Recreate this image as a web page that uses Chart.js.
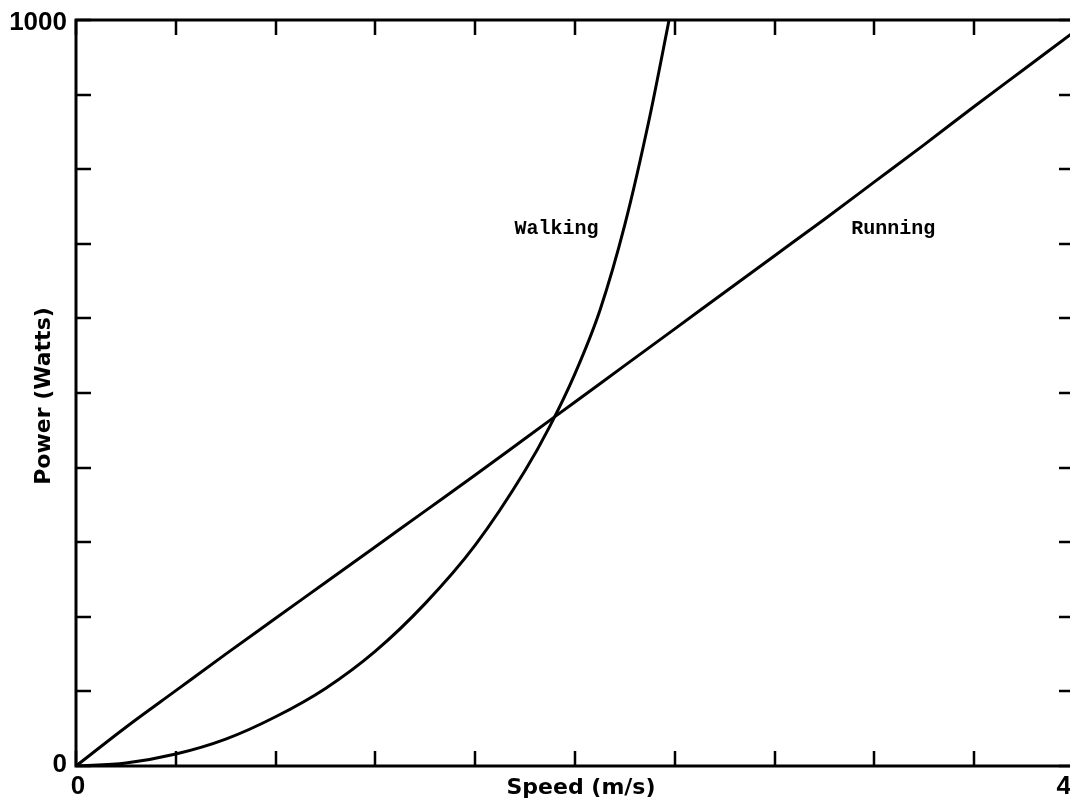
<!DOCTYPE html>
<html>
<head>
<meta charset="utf-8">
<script src="https://cdn.jsdelivr.net/npm/chart.js@4"></script>
<style>
  html, body { margin: 0; padding: 0; background: #fff; overflow: hidden; }
  #wrap { width: 1070px; height: 802px; overflow: hidden; }
</style>
</head>
<body>
<div id="wrap"><canvas id="chart" width="1076" height="802"></canvas></div>
<script>
// Speed (m/s) vs power (W)
const runSpeed = [0, 0.2, 0.4, 0.6, 0.8, 1.0, 1.2, 1.4, 1.6, 1.8, 2.0, 2.2, 2.4, 2.6, 2.8, 3.0, 3.2, 3.4, 3.6, 3.8, 4.0];
const runPower = [0, 52, 101, 150, 198, 246, 294, 342, 390, 439, 488, 537, 586, 635, 684, 733, 783, 833, 884, 934, 984];

const walkSpeed = [0, 0.2, 0.4, 0.6, 0.8, 1.0, 1.2, 1.4, 1.6, 1.8, 1.9, 2.0, 2.1, 2.2, 2.3, 2.38];
const walkPower = [0, 4, 16, 36, 66, 104, 154, 218, 296, 396, 456, 526, 611, 726, 871, 1005];

// axis ticks and the labelled ends
const xTicks = [0, 0.4, 0.8, 1.2, 1.6, 2.0, 2.4, 2.8, 3.2, 3.6, 4.0];
const yTicks = [0, 100, 200, 300, 400, 500, 600, 700, 800, 900, 1000];
const xLabels = [0, 4];
const yLabels = [0, 1000];

// curve names placed in data space
const curveNames = ["Walking", "Running"];
const nameSpeed = [1.926, 3.276];
const namePower = [720, 720];

function toPoints(xs, ys) {
  return xs.map((x, i) => ({ x: x, y: ys[i] }));
}

// frame, inward ticks, labels and titles
const framePlugin = {
  id: "frame",
  afterDraw(chart) {
    const ctx = chart.ctx;
    const a = chart.chartArea;
    const xs = chart.scales.x;
    const ys = chart.scales.y;
    const tl = 15;
    ctx.save();
    ctx.strokeStyle = "#000";
    ctx.lineWidth = 3;
    ctx.strokeRect(a.left, a.top, a.right - a.left, a.bottom - a.top);

    ctx.lineWidth = 2.5;
    ctx.beginPath();
    xTicks.forEach((v) => {
      const px = Math.round(xs.getPixelForValue(v));
      ctx.moveTo(px, a.bottom);
      ctx.lineTo(px, a.bottom - tl);
      ctx.moveTo(px, a.top);
      ctx.lineTo(px, a.top + tl);
    });
    yTicks.forEach((v) => {
      const py = Math.round(ys.getPixelForValue(v));
      ctx.moveTo(a.left, py);
      ctx.lineTo(a.left + tl, py);
      ctx.moveTo(a.right, py);
      ctx.lineTo(a.right - tl, py);
    });
    ctx.stroke();

    ctx.fillStyle = "#000";
    ctx.font = "bold 26px 'Liberation Sans'";
    ctx.textBaseline = "middle";
    xLabels.forEach((v, i) => {
      // the last label sits flush against the cut-off right edge
      ctx.textAlign = i === xLabels.length - 1 ? "right" : "center";
      ctx.fillText(String(v), xs.getPixelForValue(v) + (i === 0 ? 2 : -3), a.bottom + 21);
    });
    ctx.textAlign = "right";
    yLabels.forEach((v, i) => {
      ctx.fillText(String(v), a.left - 9, ys.getPixelForValue(v) + (i === 0 ? -1 : 3));
    });

    ctx.font = "bold 22px 'DejaVu Sans'";
    ctx.textAlign = "center";
    ctx.fillText("Speed (m/s)", 581, a.bottom + 22);
    ctx.save();
    ctx.translate(44, 396);
    ctx.rotate(-Math.PI / 2);
    ctx.fillText("Power (Watts)", 0, 0);
    ctx.restore();

    ctx.font = "bold 20px 'Liberation Mono'";
    curveNames.forEach((name, i) => {
      ctx.fillText(name, xs.getPixelForValue(nameSpeed[i]), ys.getPixelForValue(namePower[i]));
    });
    ctx.restore();
  },
};

const ctx = document.getElementById("chart").getContext("2d");
new Chart(ctx, {
  type: "scatter",
  data: {
    datasets: [
      {
        label: "Walking",
        data: toPoints(walkSpeed, walkPower),
        showLine: true,
        borderColor: "#000",
        borderWidth: 3,
        pointRadius: 0,
        cubicInterpolationMode: "monotone",
      },
      {
        label: "Running",
        data: toPoints(runSpeed, runPower),
        showLine: true,
        borderColor: "#000",
        borderWidth: 3,
        pointRadius: 0,
        cubicInterpolationMode: "monotone",
      },
    ],
  },
  options: {
    responsive: false,
    animation: false,
    devicePixelRatio: 1,
    layout: { padding: { left: 76, top: 20, right: 2, bottom: 36 } },
    plugins: { legend: { display: false }, tooltip: { enabled: false } },
    scales: {
      x: { type: "linear", min: 0, max: 4, display: false },
      y: { type: "linear", min: 0, max: 1000, display: false },
    },
  },
  plugins: [framePlugin],
});
</script>
</body>
</html>
